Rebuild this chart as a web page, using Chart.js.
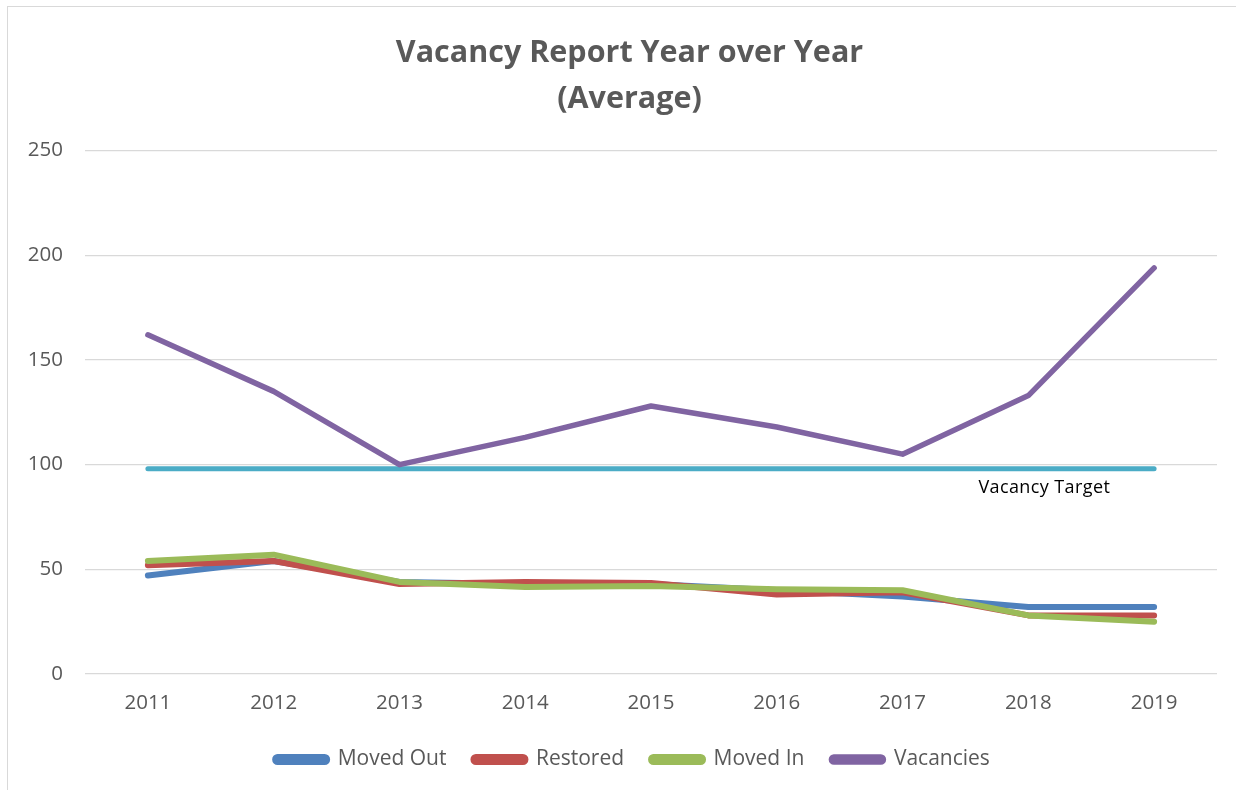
<!DOCTYPE html>
<html>
<head>
<meta charset="utf-8">
<script src="https://cdn.jsdelivr.net/npm/chart.js@4.4.0/dist/chart.umd.min.js"></script>
<style>
  html, body { margin: 0; padding: 0; background: #fff; }
  #wrap { position: relative; width: 1236px; height: 790px; overflow: hidden; }
  #frame { position: absolute; left: 7px; top: 6px; width: 1240px; height: 800px; border: 1px solid #d9d9d9; box-sizing: border-box; }
  #c { position: absolute; left: 0; top: 0; }
</style>
</head>
<body>
<div id="wrap">
  <div id="frame"></div>
  <canvas id="c" width="1236" height="790"></canvas>
</div>
<script>
const years = ["2011","2012","2013","2014","2015","2016","2017","2018","2019"];
const movedOut  = [47, 54, 44, 43, 43, 40, 37, 32, 32];
const restored  = [52, 54, 43, 44, 43.5, 38, 39, 28, 28];
const movedIn   = [54, 57, 44, 41.5, 42, 40.5, 40, 28, 25];
const vacancies = [162, 135, 100, 113, 128, 118, 105, 133, 194];
const vacancyTarget = [98, 98, 98, 98, 98, 98, 98, 98, 98];
const yTicks = [0, 50, 100, 150, 200, 250];
const titleLines = ["Vacancy Report Year over Year", "(Average)"];
const targetLabel = "Vacancy Target";

const FONT = "'Open Sans', 'Liberation Sans', sans-serif";

function lineDs(label, data, color, width) {
  return {
    label, data,
    borderColor: color, backgroundColor: color,
    borderWidth: width, pointRadius: 0, pointHoverRadius: 0,
    tension: 0, borderCapStyle: 'round', borderJoinStyle: 'round', fill: false
  };
}

const targetLabelPlugin = {
  id: 'targetLabel',
  afterDatasetsDraw(chart) {
    const ctx = chart.ctx;
    const xs = chart.scales.x, ys = chart.scales.y;
    const x = xs.getPixelForValue(7) + 16;
    const y = ys.getPixelForValue(vacancyTarget[7]) + 19;
    ctx.save();
    ctx.font = "18px " + FONT;
    try { ctx.letterSpacing = "0.4px"; } catch (e) {}
    ctx.fillStyle = "#000000";
    ctx.textAlign = "center";
    ctx.textBaseline = "middle";
    ctx.fillText(targetLabel, x, y);
    ctx.restore();
  }
};

// center title and legend over the plot area (as in the reference)
const centerBlocksPlugin = {
  id: 'centerBlocks',
  afterLayout(chart) {
    const shiftT = 17, shiftL = 20;
    if (chart.titleBlock) { chart.titleBlock.left += shiftT; chart.titleBlock.right += shiftT; }
    if (chart.legend) { chart.legend.left += shiftL; chart.legend.right += shiftL; }
  }
};

new Chart(document.getElementById('c'), {
  type: 'line',
  data: {
    labels: years,
    datasets: [
      lineDs('Vacancies', vacancies, '#8064A2', 5.5),
      lineDs('Moved In', movedIn, '#9BBB59', 6),
      lineDs('Restored', restored, '#C0504D', 6),
      lineDs('Moved Out', movedOut, '#4F81BD', 6),
      lineDs('Vacancy Target', vacancyTarget, '#4BACC6', 5)
    ]
  },
  options: {
    responsive: false,
    animation: false,
    events: [],
    layout: { padding: { left: 8, right: 19, top: 30, bottom: 10 } },
    plugins: {
      title: {
        display: true,
        text: titleLines,
        color: '#595959',
        font: { family: FONT, size: 30.5, weight: 'bold', lineHeight: 1.51 },
        padding: { top: 0, bottom: 28.5 }
      },
      legend: {
        position: 'bottom',
        reverse: true,
        labels: {
          filter: (item) => item.text !== 'Vacancy Target',
          color: '#595959',
          font: { family: FONT, size: 21 },
          boxWidth: 52,
          boxHeight: 5,
          useBorderRadius: true,
          borderRadius: 2.5,
          padding: 27
        }
      },
      tooltip: { enabled: false }
    },
    scales: {
      x: {
        offset: true,
        grid: { display: false },
        border: { display: false },
        ticks: { color: '#595959', font: { family: FONT, size: 20.5 }, padding: 9 },
        afterFit(s) { s.height = 48; }
      },
      y: {
        min: 0, max: 250,
        afterBuildTicks(s) { s.ticks = yTicks.map(v => ({ value: v })); },
        grid: { color: '#d9d9d9', lineWidth: 1.3, drawTicks: false },
        border: { display: false },
        ticks: { color: '#595959', font: { family: FONT, size: 20.5 }, padding: 22 },
        afterFit(s) { s.width = 77; }
      }
    }
  },
  plugins: [targetLabelPlugin, centerBlocksPlugin]
});
</script>
</body>
</html>
